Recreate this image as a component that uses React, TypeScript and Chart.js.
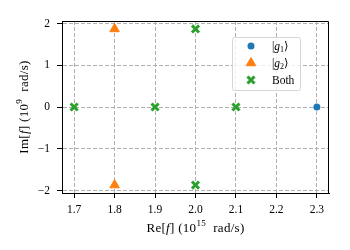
import React, { useEffect, useRef } from 'react';
import { Chart, registerables } from 'chart.js';
import { drawPoint } from 'chart.js/helpers';

Chart.register(...registerables);

// ---- data ----
const xTicks = [1.7, 1.8, 1.9, 2.0, 2.1, 2.2, 2.3];
const yTicks = [-2, -1, 0, 1, 2];
const xRange = [1.67, 2.33];
const yRange = [-2.06, 2.06];

const g1Re = [2.3];
const g1Im = [0];
const g2Re = [1.8, 1.8];
const g2Im = [1.87, -1.87];
const bothRe = [1.7, 1.9, 2.1, 2.0, 2.0];
const bothIm = [0, 0, 0, 1.87, -1.87];

const seriesNames = ['g1', 'g2', 'Both'];

// ---- styles ----
const FAMILY = "'Liberation Serif', 'DejaVu Serif', serif";
const BLUE = '#1f77b4';
const ORANGE = '#ff7f0e';
const GREEN = '#2ca02c';

type Run = { t: string; italic?: boolean; sub?: boolean; sup?: boolean };

function fontFor(r: Run, size: number) {
  const s = r.sub || r.sup ? size * 0.7 : size;
  return `${r.italic ? 'italic ' : ''}${s}px ${FAMILY}`;
}

function drawRuns(ctx: CanvasRenderingContext2D, runs: Run[], size: number, x: number, y: number, align: 'center' | 'left', rotation = 0, spacing = 0) {
  ctx.save();
  ctx.translate(x, y);
  ctx.rotate(rotation);
  ctx.textBaseline = 'alphabetic';
  ctx.textAlign = 'left';
  ctx.fillStyle = '#000';
  let total = 0;
  const widths = runs.map((r) => {
    ctx.font = fontFor(r, size);
    const w = ctx.measureText(r.t).width + spacing * r.t.length;
    total += w;
    return w;
  });
  let cx = align === 'center' ? -total / 2 : 0;
  const base = size * 0.35;
  runs.forEach((r, i) => {
    ctx.font = fontFor(r, size);
    let dy = base;
    if (r.sup) dy -= size * 0.42;
    if (r.sub) dy += size * 0.2;
    let px = cx;
    for (const ch of r.t) {
      ctx.fillText(ch, px, dy);
      px += ctx.measureText(ch).width + spacing;
    }
    cx += widths[i];
  });
  ctx.restore();
}

const xTitle: Run[] = [{ t: 'Re[' }, { t: 'f', italic: true }, { t: '] (10' }, { t: '15', sup: true }, { t: '  rad/s)' }];
const yTitle: Run[] = [{ t: 'Im[' }, { t: 'f', italic: true }, { t: '] (10' }, { t: '9', sup: true }, { t: '  rad/s)' }];

const legendRuns: Run[][] = [
  [{ t: '|' }, { t: 'g', italic: true }, { t: '1', sub: true }, { t: '⟩' }],
  [{ t: '|' }, { t: 'g', italic: true }, { t: '2', sub: true }, { t: '⟩' }],
  [{ t: seriesNames[2] }],
];

const decorPlugin = {
  id: 'decor',
  beforeDatasetsDraw(chart: any) {
    const { ctx, chartArea: a } = chart;
    ctx.save();
    ctx.strokeStyle = '#000';
    ctx.lineWidth = 1;
    ctx.setLineDash([]);
    const r = Math.round(a.right) - 0.5;
    const t = Math.round(a.top) + 0.5;
    ctx.beginPath();
    ctx.moveTo(Math.round(a.left), t);
    ctx.lineTo(r, t);
    ctx.lineTo(r, Math.round(a.bottom));
    ctx.stroke();
    ctx.restore();
  },
  afterDraw(chart: any) {
    const { ctx, chartArea: a } = chart;
    // axis titles
    drawRuns(ctx, xTitle, 13, (a.left + a.right) / 2, 227, 'center', 0, 0.3);
    drawRuns(ctx, yTitle, 13, 23, (a.top + a.bottom) / 2, 'center', -Math.PI / 2, 0.3);

    // legend
    const bx = a.right - 97;
    const by = a.top + 16;
    const bw = 68;
    const bh = 53;
    ctx.save();
    ctx.fillStyle = 'rgba(255,255,255,0.8)';
    ctx.strokeStyle = '#d6d6d6';
    ctx.lineWidth = 1;
    ctx.setLineDash([]);
    ctx.beginPath();
    if ((ctx as any).roundRect) (ctx as any).roundRect(bx + 0.5, by + 0.5, bw, bh, 2);
    else ctx.rect(bx + 0.5, by + 0.5, bw, bh);
    ctx.fill();
    ctx.stroke();
    ctx.restore();

    const styles = [
      { pointStyle: 'circle', radius: 3.5, borderWidth: 0, c: BLUE },
      { pointStyle: 'triangle', radius: 5.5, borderWidth: 1, c: ORANGE },
      { pointStyle: 'crossRot', radius: 5, borderWidth: 3, c: GREEN },
    ];
    styles.forEach((s, i) => {
      const yy = by + 9 + i * 17;
      ctx.save();
      ctx.fillStyle = s.c;
      ctx.strokeStyle = s.c;
      ctx.lineWidth = s.borderWidth;
      drawPoint(ctx, { pointStyle: s.pointStyle as any, radius: s.radius, borderWidth: s.borderWidth, rotation: 0 }, bx + 19, yy);
      ctx.restore();
      drawRuns(ctx, legendRuns[i], 11.5, bx + 40, yy, 'left');
    });
  },
};

const fmtMinus = (v: number, d: number) => {
  const s = Math.abs(v).toFixed(d);
  return v < 0 ? '\u2212' + s : s;
};

export default function App() {
  const ref = useRef<HTMLCanvasElement | null>(null);
  useEffect(() => {
    if (!ref.current) return;
    const tickFont = { family: FAMILY, size: 11.5 };
    const grid = {
      color: '#b0b0b0',
      lineWidth: 1,
      tickLength: 5,
      tickColor: '#000',
      tickWidth: 1,
      tickBorderDash: [],
    };
    const border = { color: '#000', width: 1, dash: [4, 2] };
    const chart = new Chart(ref.current, {
      type: 'scatter',
      data: {
        datasets: [
          {
            label: seriesNames[0],
            data: g1Re.map((x, i) => ({ x, y: g1Im[i] })),
            pointStyle: 'circle',
            pointRadius: 3.5,
            pointBorderWidth: 0,
            backgroundColor: BLUE,
            borderColor: BLUE,
          },
          {
            label: seriesNames[1],
            data: g2Re.map((x, i) => ({ x, y: g2Im[i] })),
            pointStyle: 'triangle',
            pointRadius: 5.5,
            pointBorderWidth: 1,
            backgroundColor: ORANGE,
            borderColor: ORANGE,
          },
          {
            label: seriesNames[2],
            data: bothRe.map((x, i) => ({ x, y: bothIm[i] })),
            pointStyle: 'crossRot',
            pointRadius: 5,
            pointBorderWidth: 3,
            backgroundColor: GREEN,
            borderColor: GREEN,
          },
        ],
      },
      options: {
        responsive: false,
        animation: false,
        layout: { padding: { top: 21, right: 21, left: 0, bottom: 0 } },
        plugins: { legend: { display: false }, tooltip: { enabled: false } },
        scales: {
          x: {
            type: 'linear',
            min: xRange[0],
            max: xRange[1],
            afterBuildTicks: (s: any) => {
              s.ticks = xTicks.map((v) => ({ value: v }));
            },
            afterFit: (s: any) => {
              s.height = 57;
            },
            ticks: {
              callback: (v: any) => fmtMinus(Number(v), 1),
              font: tickFont,
              color: '#000',
              padding: 5,
              maxRotation: 0,
              autoSkip: false,
            },
            grid: grid as any,
            border: border as any,
          },
          y: {
            type: 'linear',
            min: yRange[0],
            max: yRange[1],
            afterBuildTicks: (s: any) => {
              s.ticks = yTicks.map((v) => ({ value: v }));
            },
            afterFit: (s: any) => {
              s.width = 62;
            },
            ticks: {
              callback: (v: any) => fmtMinus(Number(v), 0),
              font: tickFont,
              color: '#000',
              padding: 7,
              autoSkip: false,
            },
            grid: grid as any,
            border: border as any,
          },
        },
      },
      plugins: [decorPlugin],
    } as any);
    return () => chart.destroy();
  }, []);
  return (
    <div style={{ position: 'absolute', left: 0, top: 0, width: 350, height: 250, background: '#fff' }}>
      <canvas ref={ref} width={350} height={250} style={{ display: 'block' }} />
    </div>
  );
}
